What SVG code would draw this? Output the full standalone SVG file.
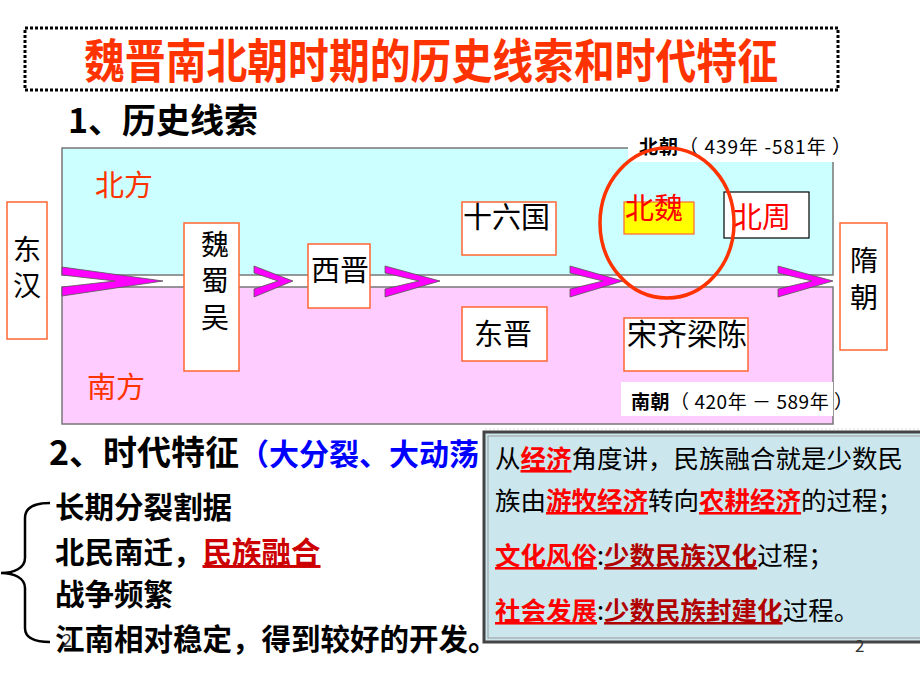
<svg xmlns="http://www.w3.org/2000/svg" width="920" height="690" viewBox="0 0 920 690">
<style>
text{font-family:"Noto Sans CJK SC","Liberation Sans",sans-serif;}
.box{fill:#fff;stroke:#FF6633;stroke-width:1.5;}
.lbl{font-size:28px;fill:#000;}
.chev{fill:#FF00FF;stroke:#555;stroke-width:0.8;}
.u{text-decoration:underline;font-weight:bold;}
</style>
<rect width="920" height="690" fill="#fff"/>

<g id="title">
<rect x="25" y="28" width="813" height="62" fill="none" stroke="#000" stroke-width="3" stroke-dasharray="3 2"/>
<text x="84" y="78" font-size="47" font-weight="bold" fill="#FF3300" textLength="694" lengthAdjust="spacingAndGlyphs">魏晋南北朝时期的历史线索和时代特征</text>
</g>

<g id="heading1"><text x="68" y="133" font-size="34" font-weight="bold">1、历史线索</text></g>

<g id="regions">
<rect x="62" y="148" width="771" height="127" fill="#CCFFFF" stroke="#777" stroke-width="1.5"/>
<rect x="62" y="287" width="771" height="137" fill="#FFCCFF" stroke="#777" stroke-width="1.5"/>
<line x1="485" y1="429" x2="920" y2="429" stroke="#ddd" stroke-width="1" stroke-dasharray="2 2"/>
<text x="95" y="196" font-size="29" fill="#FF3300">北方</text>
<text x="87" y="398" font-size="29" fill="#FF3300">南方</text>
</g>

<g id="label-north">
<rect x="628" y="130" width="230" height="32" fill="#fff"/>
<text x="639" y="154" font-size="19" textLength="212" lengthAdjust="spacing"><tspan font-weight="bold">北朝</tspan>（ 439年 -581年 ）</text>
</g>
<g id="label-south">
<rect x="621" y="382" width="212" height="34" fill="#fff"/>
<text x="631" y="409" font-size="19" textLength="222" lengthAdjust="spacing"><tspan font-weight="bold">南朝</tspan>（ 420年 － 589年 ）</text>
</g>

<g id="connectors">
<polygon class="chev" points="62,267 163,281 62,296 62,287 115,281 62,275"/>
<polygon class="chev" points="254,266 293,281 254,297 254,289 278,281 254,273"/>
<polygon class="chev" points="385,266 440,281 385,297 385,289 419,281 385,273"/>
<polygon class="chev" points="570,266 623,281 570,297 570,289 603,281 570,273"/>
<polygon class="chev" points="778,266 833,281 778,297 778,289 812,281 778,273"/>
</g>

<g id="donghan">
<rect class="box" x="7" y="202" width="40" height="137"/>
<text class="lbl" text-anchor="middle"><tspan x="27" y="260">东</tspan><tspan x="27" y="296">汉</tspan></text>
</g>
<g id="weishuwu">
<rect class="box" x="184" y="223" width="55" height="148"/>
<text class="lbl" text-anchor="middle"><tspan x="215" y="255">魏</tspan><tspan x="215" y="291">蜀</tspan><tspan x="215" y="328">吴</tspan></text>
</g>
<g id="xijin">
<rect class="box" x="308" y="244" width="62" height="64"/>
<text class="lbl" x="311" y="281" style="font-size:29px">西晋</text>
</g>
<g id="shiliuguo">
<rect class="box" x="462" y="202" width="94" height="53"/>
<text class="lbl" x="463" y="228" style="font-size:29px">十六国</text>
</g>
<g id="dongjin">
<rect class="box" x="462" y="307" width="85" height="54"/>
<text class="lbl" x="474" y="345" style="font-size:29px">东晋</text>
</g>
<g id="beiwei">
<rect x="624" y="202" width="70" height="32" fill="#FFFF00" stroke="#FF6633" stroke-width="1.2"/>
<text x="625" y="219" font-size="29" fill="#FF0000">北魏</text>
</g>
<g id="beizhou">
<rect x="724" y="192" width="85" height="46" fill="#fff" stroke="#000" stroke-width="1.2"/>
<text x="733" y="228" font-size="29" fill="#FF0000">北周</text>
</g>
<g id="songqiliangchen">
<rect class="box" x="624" y="318" width="124" height="53"/>
<text class="lbl" x="627" y="345" style="font-size:30px">宋齐梁陈</text>
</g>
<g id="suichao">
<rect class="box" x="840" y="223" width="47" height="127"/>
<text class="lbl" text-anchor="middle"><tspan x="864" y="271">隋</tspan><tspan x="864" y="308">朝</tspan></text>
</g>
<g id="highlight-circle">
<ellipse cx="667" cy="223" rx="67" ry="75" fill="none" stroke="#FF3300" stroke-width="3.5"/>
</g>

<g id="heading2">
<text x="49" y="465" font-size="34" font-weight="bold">2、时代特征<tspan font-size="30" fill="#0000FF">（大分裂、大动荡</tspan></text>
</g>

<g id="features">
<path d="M50,503 C34,503 25,507 25,518 L25,558 C25,568 14,573 1,573 C14,573 25,578 25,588 L25,628 C25,638 34,642 50,642" fill="none" stroke="#000" stroke-width="2.5"/>
<text x="55" y="518" font-size="29.5" font-weight="bold">长期分裂割据</text>
<text x="55" y="563" font-size="29.5" font-weight="bold">北民南迁，<tspan fill="#CC0000" text-decoration="underline">民族融合</tspan></text>
<text x="55" y="605" font-size="29.5" font-weight="bold">战争频繁</text>
<text x="55" y="650" font-size="29.5" font-weight="bold">江南相对稳定，得到较好的开发。</text>
<text x="62" y="647" font-size="18" fill="#333">2</text>
</g>

<g id="infobox">
<rect x="484" y="432" width="440" height="210" fill="#CBE6EC" stroke="#444" stroke-width="3"/>
<rect x="488" y="436" width="440" height="202" fill="none" stroke="#999" stroke-width="1"/>
<text x="495" y="468" font-size="25.5">从<tspan class="u" fill="#FF0000">经济</tspan>角度讲，民族融合就是少数民</text>
<text x="495" y="510" font-size="25.5">族由<tspan class="u" fill="#FF0000">游牧经济</tspan>转向<tspan class="u" fill="#FF0000">农耕经济</tspan>的过程；</text>
<text x="495" y="565" font-size="25.5"><tspan class="u" fill="#FF0000">文化风俗</tspan>:<tspan class="u" fill="#B00000">少数民族汉化</tspan>过程；</text>
<text x="495" y="620" font-size="25.5"><tspan class="u" fill="#FF0000">社会发展</tspan>:<tspan class="u" fill="#B00000">少数民族封建化</tspan>过程。</text>
</g>

<g id="page-number"><text x="855" y="652" font-size="17" fill="#333">2</text></g>
</svg>
